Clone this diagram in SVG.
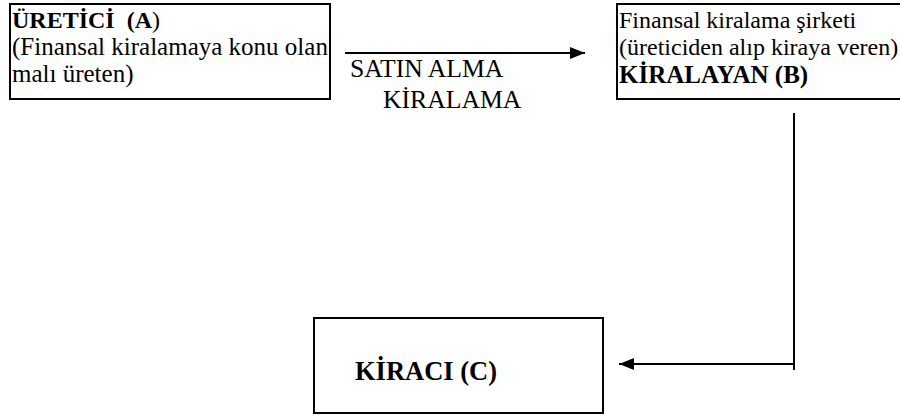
<svg xmlns="http://www.w3.org/2000/svg" width="900" height="416" viewBox="0 0 900 416">
<style>
.box{fill:#fff;stroke:#000;stroke-width:2}
.t{font-family:"Liberation Serif","Times New Roman",serif;font-size:25px;fill:#000;white-space:pre}
.s{font-size:24px}
.l{font-size:25.7px}
.b{font-weight:bold}
.c{stroke:#000;stroke-width:2;fill:none}
</style>
<defs>
<marker id="ah" markerWidth="16" markerHeight="12" refX="15" refY="6" orient="auto" markerUnits="userSpaceOnUse">
<path d="M0,0 L15,6 L0,12 Z" fill="#000"/>
</marker>
</defs>
<rect width="900" height="416" fill="#fff"/>
<g id="nodeA">
<rect class="box" x="10" y="4" width="320" height="95"/>
<text class="t s" x="12" y="28" xml:space="preserve"><tspan class="b">ÜRETİCİ  (A</tspan>)</text>
<text class="t" x="12" y="55">(Finansal kiralamaya konu olan</text>
<text class="t" x="12" y="82">malı üreten)</text>
</g>
<g id="nodeB">
<rect class="box" x="617" y="4" width="290" height="95"/>
<text class="t s" x="619" y="28">Finansal kiralama şirketi</text>
<text class="t s" x="619" y="55">(üreticiden alıp kiraya veren)</text>
<text class="t b" x="619" y="83">KİRALAYAN (B)</text>
</g>
<g id="nodeC">
<rect class="box" x="314" y="318" width="289" height="95"/>
<text class="t b" x="355" y="380" style="font-size:26.5px">KİRACI (C)</text>
</g>
<g id="connectors">
<line class="c" x1="345" y1="53" x2="585" y2="53" marker-end="url(#ah)"/>
<text class="t l" x="350" y="77">SATIN ALMA</text>
<text class="t l" x="383" y="108">KİRALAMA</text>
<polyline class="c" points="794,113 794,370"/>
<line class="c" x1="794" y1="364" x2="619" y2="364" marker-end="url(#ah)"/>
</g>
</svg>
